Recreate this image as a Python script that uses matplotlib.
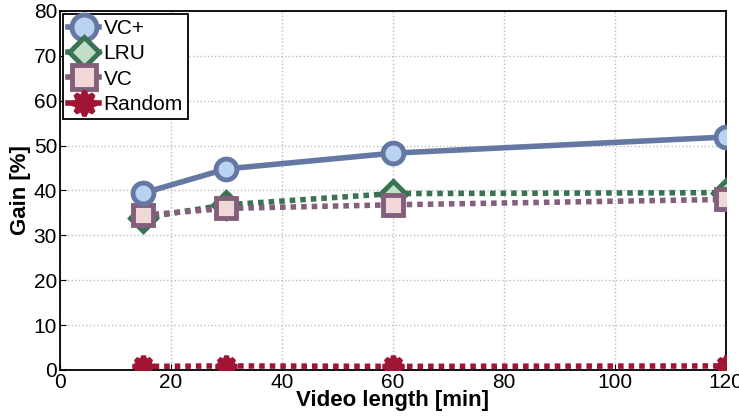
import matplotlib.pyplot as plt

plt.rcParams['font.family'] = ['Liberation Sans', 'DejaVu Sans']

# Data
video_len = [15, 30, 60, 120]
vc_plus = [39.4, 44.8, 48.3, 51.9]
lru = [33.9, 36.8, 39.3, 39.5]
vc = [34.5, 36.0, 36.8, 38.0]
random_gain = [0.8, 0.9, 0.8, 0.9]

fig = plt.figure(figsize=(7.39, 4.19), dpi=100)
ax = fig.add_axes([0.081, 0.117, 0.901, 0.857])

dots = (0, (1, 0.9))
ax.plot(video_len, vc_plus, '-o', color='#6577a3', lw=4, ms=15,
        mfc='#b9d3f0', mec='#6577a3', mew=3.5, label='VC+', zorder=5)
ax.plot(video_len, lru, marker='D', ls=dots, dash_capstyle='butt', color='#3a7353', lw=4, ms=13,
        mfc='#c1dfc6', mec='#3a7353', mew=3.5, label='LRU', zorder=4)
ax.plot(video_len, vc, marker='s', ls=dots, dash_capstyle='butt', color='#845f7c', lw=4, ms=14,
        mfc='#f0d8d8', mec='#845f7c', mew=3.5, label='VC', zorder=4)
ax.plot(video_len, random_gain, marker=(8, 1, 0), ls=dots, dash_capstyle='butt', color='#a01534',
        lw=4, ms=15, mfc='#a01534', mec='#a01534', mew=3.5, label='Random', zorder=4)

ax.set_xlim(0, 120)
ax.set_ylim(0, 80)
ax.set_xticks(range(0, 121, 20))
ax.set_yticks(range(0, 81, 10))
ax.tick_params(direction='in', labelsize=15, length=4, pad=2)
ax.grid(True, linestyle=':', color='#bdbdbd', lw=1)
for s in ax.spines.values():
    s.set_linewidth(1.3)

ax.set_xlabel('Video length [min]', fontsize=16, fontweight='bold', labelpad=-1)
ax.set_ylabel('Gain [%]', fontsize=16, fontweight='bold', labelpad=2)

leg = ax.legend(loc='upper left', fontsize=15, fancybox=False, framealpha=1,
                edgecolor='black', borderaxespad=0.15, handlelength=1.5,
                handletextpad=0.2, borderpad=0.25, labelspacing=0.3, markerscale=1.2)
leg.get_frame().set_linewidth(1.3)
for h in leg.get_lines():
    h.set_linestyle('-')

fig.savefig('out.png', dpi=100)
